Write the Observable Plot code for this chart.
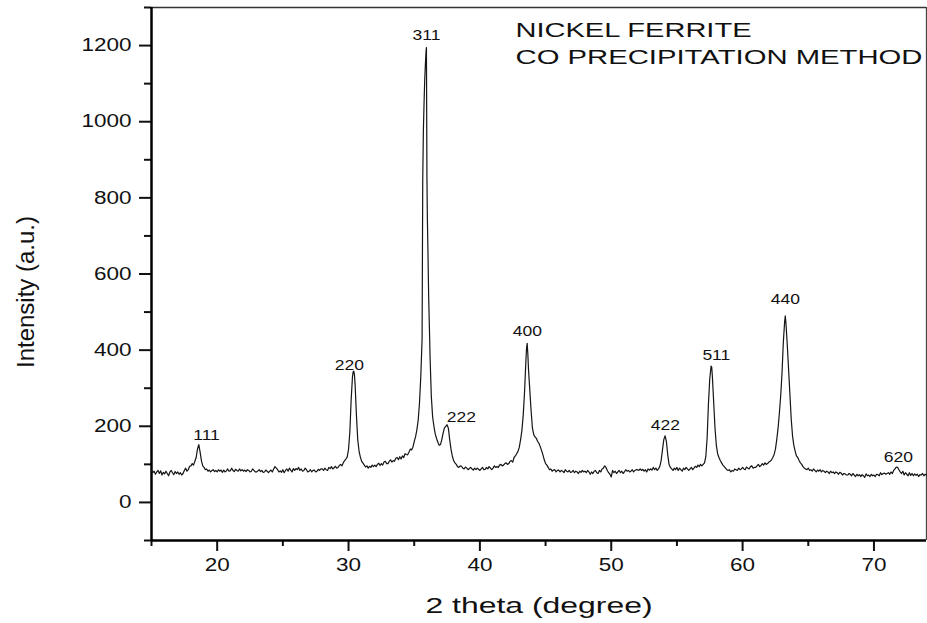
<!DOCTYPE html>
<html><head><meta charset="utf-8">
<script src="https://cdn.jsdelivr.net/npm/d3@7"></script>
<script src="https://cdn.jsdelivr.net/npm/@observablehq/plot@0.6"></script>
<style>
body{margin:0;background:#fff;}
#chart svg{font-family:"Liberation Sans",Arial,sans-serif;}
</style>
</head><body><div id="chart"></div>
<script>
// 2θ (degree), one row per degree
const twoTheta = [
15.0,15.1,15.2,15.3,15.4,15.5,15.6,15.7,15.8,15.9,
16.0,16.1,16.2,16.3,16.4,16.5,16.6,16.7,16.8,16.9,
17.0,17.1,17.2,17.3,17.4,17.5,17.6,17.7,17.8,17.9,
18.0,18.1,18.2,18.3,18.4,18.5,18.6,18.7,18.8,18.9,
19.0,19.1,19.2,19.3,19.4,19.5,19.6,19.7,19.8,19.9,
20.0,20.1,20.2,20.3,20.4,20.5,20.6,20.7,20.8,20.9,
21.0,21.1,21.2,21.3,21.4,21.5,21.6,21.7,21.8,21.9,
22.0,22.1,22.2,22.3,22.4,22.5,22.6,22.7,22.8,22.9,
23.0,23.1,23.2,23.3,23.4,23.5,23.6,23.7,23.8,23.9,
24.0,24.1,24.2,24.3,24.4,24.5,24.6,24.7,24.8,24.9,
25.0,25.1,25.2,25.3,25.4,25.5,25.6,25.7,25.8,25.9,
26.0,26.1,26.2,26.3,26.4,26.5,26.6,26.7,26.8,26.9,
27.0,27.1,27.2,27.3,27.4,27.5,27.6,27.7,27.8,27.9,
28.0,28.1,28.2,28.3,28.4,28.5,28.6,28.7,28.8,28.9,
29.0,29.1,29.2,29.3,29.4,29.5,29.6,29.7,29.8,29.9,
30.0,30.1,30.2,30.3,30.35,30.4,30.45,30.5,30.6,30.7,30.8,30.9,
31.0,31.1,31.2,31.3,31.4,31.5,31.6,31.7,31.8,31.9,
32.0,32.1,32.2,32.3,32.4,32.5,32.6,32.7,32.8,32.9,
33.0,33.1,33.2,33.3,33.4,33.5,33.6,33.7,33.8,33.9,
34.0,34.1,34.2,34.3,34.4,34.5,34.6,34.7,34.8,34.9,
35.0,35.1,35.2,35.3,35.4,35.5,35.6,35.65,35.7,35.75,35.8,35.85,35.9,35.93,35.97,
36.0,36.05,36.1,36.18,36.2,36.3,36.4,36.5,36.6,36.7,36.8,36.9,
37.0,37.1,37.2,37.3,37.4,37.5,37.6,37.7,37.8,37.9,
38.0,38.1,38.2,38.3,38.4,38.5,38.6,38.7,38.8,38.9,
39.0,39.1,39.2,39.3,39.4,39.5,39.6,39.7,39.8,39.9,
40.0,40.1,40.2,40.3,40.4,40.5,40.6,40.7,40.8,40.9,
41.0,41.1,41.2,41.3,41.4,41.5,41.6,41.7,41.8,41.9,
42.0,42.1,42.2,42.3,42.4,42.5,42.6,42.7,42.8,42.9,
43.0,43.1,43.2,43.3,43.4,43.5,43.55,43.6,43.65,43.7,43.8,43.9,
44.0,44.1,44.2,44.3,44.4,44.5,44.6,44.7,44.8,44.9,
45.0,45.1,45.2,45.3,45.4,45.5,45.6,45.7,45.8,45.9,
46.0,46.1,46.2,46.3,46.4,46.5,46.6,46.7,46.8,46.9,
47.0,47.1,47.2,47.3,47.4,47.5,47.6,47.7,47.8,47.9,
48.0,48.1,48.2,48.3,48.4,48.5,48.6,48.7,48.8,48.9,
49.0,49.1,49.2,49.3,49.4,49.5,49.6,49.7,49.8,49.9,
50.0,50.1,50.2,50.3,50.4,50.5,50.6,50.7,50.8,50.9,
51.0,51.1,51.2,51.3,51.4,51.5,51.6,51.7,51.8,51.9,
52.0,52.1,52.2,52.3,52.4,52.5,52.6,52.7,52.8,52.9,
53.0,53.1,53.2,53.3,53.4,53.5,53.6,53.7,53.8,53.9,
54.0,54.1,54.2,54.3,54.4,54.5,54.6,54.7,54.8,54.9,
55.0,55.1,55.2,55.3,55.4,55.5,55.6,55.7,55.8,55.9,
56.0,56.1,56.2,56.3,56.4,56.5,56.6,56.7,56.8,56.9,
57.0,57.1,57.2,57.3,57.4,57.5,57.6,57.65,57.7,57.8,57.9,
58.0,58.1,58.2,58.3,58.4,58.5,58.6,58.7,58.8,58.9,
59.0,59.1,59.2,59.3,59.4,59.5,59.6,59.7,59.8,59.9,
60.0,60.1,60.2,60.3,60.4,60.5,60.6,60.7,60.8,60.9,
61.0,61.1,61.2,61.3,61.4,61.5,61.6,61.7,61.8,61.9,
62.0,62.1,62.2,62.3,62.4,62.5,62.6,62.7,62.8,62.9,
63.0,63.1,63.2,63.25,63.3,63.4,63.5,63.6,63.7,63.8,63.9,
64.0,64.1,64.2,64.3,64.4,64.5,64.6,64.7,64.8,64.9,
65.0,65.1,65.2,65.3,65.4,65.5,65.6,65.7,65.8,65.9,
66.0,66.1,66.2,66.3,66.4,66.5,66.6,66.7,66.8,66.9,
67.0,67.1,67.2,67.3,67.4,67.5,67.6,67.7,67.8,67.9,
68.0,68.1,68.2,68.3,68.4,68.5,68.6,68.7,68.8,68.9,
69.0,69.1,69.2,69.3,69.4,69.5,69.6,69.7,69.8,69.9,
70.0,70.1,70.2,70.3,70.4,70.5,70.6,70.7,70.8,70.9,
71.0,71.1,71.2,71.3,71.4,71.5,71.6,71.7,71.8,71.9,
72.0,72.1,72.2,72.3,72.4,72.5,72.6,72.7,72.8,72.9,
73.0,73.1,73.2,73.3,73.4,73.5,73.6,73.7,73.8,73.9,
74.0
];
// Intensity (a.u.), same rows
const intensity = [
85,78,82,74,80,84,76,83,72,79,
75,82,76,70,80,84,78,73,81,76,
80,74,78,72,76,84,90,82,86,95,
96,102,98,108,118,140,152,132,110,96,
92,86,88,82,85,80,84,86,81,84,
80,86,82,85,79,85,80,83,88,82,
83,90,84,81,87,84,82,88,83,86,
82,85,81,86,84,80,82,88,84,80,
80,83,86,81,84,79,80,85,82,78,
82,85,80,88,94,90,86,80,83,79,
86,78,84,88,82,90,85,80,89,84,
89,86,92,84,88,82,84,90,86,80,
82,86,80,84,85,80,82,87,84,88,
88,84,90,86,84,92,89,94,88,91,
95,90,92,97,100,96,104,110,114,119,
140,185,270,330,343,345,335,310,230,165,135,119,
108,103,98,93,96,90,95,92,98,94,
98,94,100,103,97,102,98,106,108,102,
102,108,112,106,110,108,116,118,112,120,
114,122,118,128,126,125,132,140,138,145,
160,172,190,215,260,330,430,850,980,1050,1110,1150,1185,1195,850,
750,650,540,426,390,280,225,200,180,168,158,150,
152,165,182,196,200,204,195,165,140,122,
110,104,100,94,92,96,95,90,88,93,
90,86,89,92,88,85,90,86,90,87,
84,88,92,86,87,92,88,94,90,86,
90,96,92,94,92,98,100,96,98,102,
104,100,102,108,110,106,118,122,128,134,
145,165,190,230,290,370,405,418,390,350,295,240,
195,178,172,168,160,155,146,136,125,112,
102,98,92,86,88,82,85,86,80,84,
85,80,84,82,78,86,82,80,84,79,
80,84,78,82,80,76,82,79,84,80,
82,78,84,80,74,80,76,82,84,78,
76,84,80,88,90,96,92,84,78,74,
67,84,78,82,76,80,84,78,82,76,
80,86,82,84,80,82,86,80,84,86,
86,84,88,84,87,82,86,80,88,85,
88,85,92,86,90,84,88,95,110,138,
165,175,160,125,100,92,88,84,90,86,
92,84,90,86,82,90,86,92,88,84,
88,92,86,90,95,92,98,94,100,96,
100,104,120,170,260,325,358,355,330,262,195,
150,128,118,110,104,98,94,90,86,84,
86,80,84,82,88,86,84,90,86,88,
92,88,86,93,90,88,94,96,90,92,
92,96,100,94,97,102,98,104,100,102,
106,108,112,118,126,140,165,195,235,280,
340,420,475,490,470,415,350,285,220,175,150,
135,122,118,110,104,100,94,90,88,86,
90,84,86,82,88,84,80,85,82,86,
80,84,82,78,82,80,76,82,78,80,
76,80,78,74,79,77,72,76,75,72,
72,76,74,70,76,72,68,74,70,73,
68,73,70,66,75,70,72,68,74,70,
72,68,74,73,70,78,73,76,77,74,
76,78,74,80,76,84,88,93,92,86,
80,76,82,72,78,74,70,78,71,76,
70,75,71,74,68,73,72,76,70,74,
72
];
const peakLabels = ["111","220","311","222","400","422","511","440","620"];
const peakLabelX = [19.19,30.07,35.93,38.59,43.61,54.12,58.0,63.25,71.85];
const peakLabelY = [176,360,1226,224,450,201,387,532,118];
const titleLines = ["NICKEL FERRITE","CO PRECIPITATION METHOD"];
const xLabel = "2 theta (degree)";
const yLabel = "Intensity (a.u.)";
const xMajorTicks = [20,30,40,50,60,70];
const xMinorTicks = [15,25,35,45,55,65];
const yMajorTicks = [0,200,400,600,800,1000,1200];
const yMinorTicks = [-100,100,300,500,700,900,1100,1300];

const data = twoTheta.map((t,i)=>({t, I: intensity[i]}));
const font = '"Liberation Sans",Arial,sans-serif';

const chart = Plot.plot({
  width: 927, height: 623,
  marginLeft: 151, marginRight: 1, marginTop: 7, marginBottom: 83,
  x: {domain: [15, 74], label: null},
  y: {domain: [-100, 1300], label: null},
  style: {fontFamily: font, color: "#111", background: "#fff", overflow: "visible"},
  marks: [
    Plot.axisX(xMajorTicks, {tickSize: 11, tickPadding: 7, fontSize: 18, strokeWidth: 2, label: null, tickFormat: d => String(d)}),
    Plot.axisX(xMinorTicks, {tickSize: 6, text: null, strokeWidth: 2, label: null}),
    Plot.axisY(yMajorTicks, {tickSize: 12, tickPadding: 8, fontSize: 18, strokeWidth: 2, label: null, tickFormat: d => String(d)}),
    Plot.axisY(yMinorTicks, {tickSize: 7, text: null, strokeWidth: 2, label: null}),
    Plot.ruleX([74], {stroke: "#444", strokeWidth: 1.3}),
    Plot.ruleY([1300], {stroke: "#333", strokeWidth: 1.6}),
    Plot.ruleX([15], {stroke: "#000", strokeWidth: 2.5}),
    Plot.ruleY([-100], {stroke: "#000", strokeWidth: 2.5}),
    Plot.line(data, {x: "t", y: "I", stroke: "#151515", strokeWidth: 1.2}),
    Plot.text(peakLabels, {x: (d,i) => peakLabelX[i], y: (d,i) => peakLabelY[i], text: d => d, fontSize: 14, fill: "#111"}),
    Plot.text([titleLines[0]], {frameAnchor: "top-left", dx: 364, dy: 23, lineAnchor: "middle", textAnchor: "start", fontSize: 20, fill: "#111"}),
    Plot.text([titleLines[1]], {frameAnchor: "top-left", dx: 364, dy: 50, lineAnchor: "middle", textAnchor: "start", fontSize: 20, fill: "#111"}),
    Plot.text([xLabel], {frameAnchor: "bottom", dy: 65, lineAnchor: "middle", textAnchor: "middle", fontSize: 22, fill: "#111"}),
    Plot.text([yLabel], {frameAnchor: "left", dx: -125, dy: 18, rotate: -90, lineAnchor: "middle", textAnchor: "middle", fontSize: 23, fill: "#111"})
  ]
});
document.getElementById("chart").appendChild(chart);

// horizontal stretch of the lettering, as in the reference picture
const explicit = new Map([[titleLines[0], 236], [titleLines[1], 407], [xLabel, 227], [yLabel, 152]]);
d3.select(chart).selectAll("text").each(function() {
  const txt = this.textContent;
  const w = this.getComputedTextLength();
  const target = explicit.has(txt) ? explicit.get(txt) : w * 1.25;
  this.setAttribute("textLength", target);
  this.setAttribute("lengthAdjust", "spacingAndGlyphs");
});
</script>
</body></html>
